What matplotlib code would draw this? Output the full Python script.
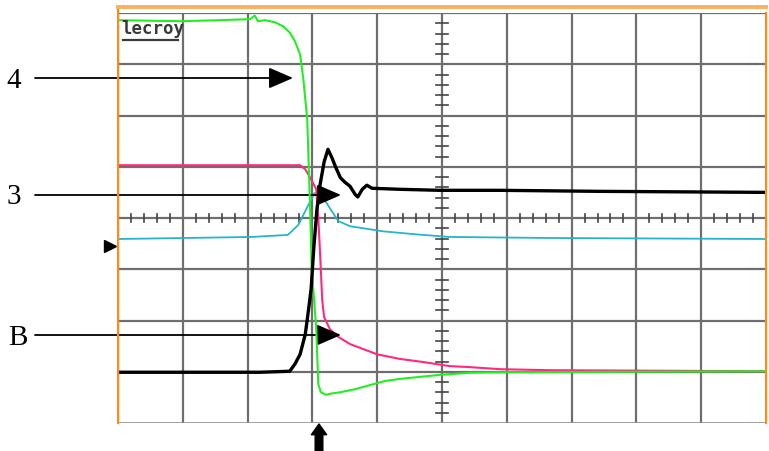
import numpy as np
import matplotlib
matplotlib.use('Agg')
from matplotlib import pyplot as plt

# traces, in screen divisions (x: 0..10, y: 0..8)
green_t = [0, 0.96, 1.57, 2.04, 2.11, 2.16, 2.27, 2.42, 2.55, 2.65, 2.73, 2.81, 2.86,
           2.92, 2.96, 2.99, 3.06, 3.09, 3.13, 3.21, 3.27, 3.43, 3.66, 3.89, 4.12,
           4.35, 4.66, 4.97, 5.43, 5.90, 10]
green_v = [7.86, 7.84, 7.86, 7.88, 7.95, 7.84, 7.86, 7.82, 7.74, 7.62, 7.45, 7.19, 6.71,
           5.93, 4.37, 3.00, 1.83, 0.76, 0.60, 0.55, 0.57, 0.60, 0.66, 0.74, 0.82,
           0.86, 0.90, 0.94, 0.98, 0.99, 1.01]

pink_t = [0, 2.81, 2.89, 2.96, 3.06, 3.10, 3.13, 3.15, 3.18, 3.27, 3.40, 3.58, 4.00,
          4.35, 4.71, 5.12, 5.43, 5.90, 6.67, 10]
pink_v = [5.03, 5.03, 4.95, 4.80, 4.56, 3.78, 3.00, 2.42, 2.07, 1.83, 1.68, 1.54, 1.34,
          1.25, 1.19, 1.11, 1.09, 1.05, 1.03, 1.01]

black_t = [0, 1.27, 2.19, 2.65, 2.73, 2.81, 2.89, 2.93, 2.98, 3.02, 3.07, 3.12, 3.18,
           3.24, 3.30, 3.36, 3.43, 3.50, 3.58, 3.66, 3.70, 3.77, 3.84, 3.92, 4.35,
           4.97, 5.90, 7.44, 10]
black_v = [0.99, 0.99, 0.99, 1.01, 1.15, 1.34, 1.73, 2.11, 2.61, 3.39, 4.17, 4.66, 5.09,
           5.34, 5.18, 4.99, 4.79, 4.70, 4.62, 4.46, 4.41, 4.56, 4.64, 4.58, 4.56,
           4.54, 4.54, 4.52, 4.50]

cyan_t = [0, 2.06, 2.62, 2.78, 2.92, 3.03, 3.10, 3.18, 3.26, 3.40, 3.58, 4.09, 4.61,
          5.12, 6.67, 10]
cyan_v = [3.59, 3.63, 3.67, 3.86, 4.21, 4.48, 4.52, 4.37, 4.21, 3.94, 3.84, 3.74, 3.68,
          3.63, 3.61, 3.59]

W, H = 769, 452
fig = plt.figure(figsize=(W / 100, H / 100), dpi=100)
ax = fig.add_axes([118 / W, 28 / H, 648 / W, 410 / H])
ax.set_xlim(0, 10)
ax.set_ylim(0, 8)
ax.set_axis_off()

grid_c = '#6e6e6e'
for gx in range(1, 10):
    ax.plot([gx, gx], [0, 8], color=grid_c, lw=1.6, zorder=1)
for gy in range(1, 8):
    ax.plot([0, 10], [gy, gy], color=grid_c, lw=1.6, zorder=1)
ax.plot([0, 10], [0, 0], color='#909090', lw=1.2, zorder=1)
ax.plot([0, 10], [8, 8], color=grid_c, lw=1.6, zorder=1)

# minor ticks on the centre axes
for p in np.arange(0.2, 10, 0.2):
    if abs(p - round(p)) > 0.05:
        ax.plot([p, p], [3.92, 4.08], color='#444444', lw=1.2, zorder=1)
for p in np.arange(0.2, 8, 0.2):
    if abs(p - round(p)) > 0.05:
        ax.plot([4.91, 5.09], [p, p], color='#444444', lw=1.2, zorder=1)

# orange frame
ax.plot([0, 0], [0, 8.12], color='#ff8a1c', lw=1.6, clip_on=False, zorder=5)
ax.plot([10, 10], [0, 8], color='#ff8a1c', lw=1.6, clip_on=False, zorder=5)
ax.plot([0, 10], [8.12, 8.12], color='#f9b060', lw=2.8, clip_on=False, zorder=5)

ax.plot(cyan_t, cyan_v, color='#25b5c8', lw=1.3, zorder=3)
ax.plot(pink_t, pink_v, color='#ff2a80', lw=1.5, zorder=3)
ax.plot(green_t, green_v, color='#22ee22', lw=1.5, zorder=4)
ax.plot(black_t, black_v, color='black', lw=2.4, zorder=4)

# ground marker on left edge
ax.plot([-0.12], [3.45], marker='>', color='black', markersize=8, clip_on=False)

ax.text(0.05, 7.70, 'lecroy', family='DejaVu Sans Mono', fontsize=12.5,
        fontweight='bold', color='#3a3a3a', va='center', ha='left', zorder=6)
ax.plot([0.07, 0.92], [7.47, 7.47], color='#3a3a3a', lw=1.6, zorder=6)

# annotation arrows
labels = ['4', '3', 'B']
label_x = [14, 14, 18]
label_y = [81, 197, 338]
tip_x = [293, 341, 341]
arrow_y = [79, 196, 336]
for lab, lx, ly, tx, ay in zip(labels, label_x, label_y, tip_x, arrow_y):
    fig.text(lx / W, 1 - ly / H, lab, family='Liberation Serif', fontsize=21,
             ha='center', va='center')
    ax.annotate('', xy=(tx, H - ay), xytext=(35, H - ay),
                xycoords='figure pixels', textcoords='figure pixels',
                arrowprops=dict(arrowstyle='-|>,head_length=1.5,head_width=0.65',
                                mutation_scale=10, color='black', lw=1.3,
                                shrinkA=0, shrinkB=0))

# trigger arrow below the screen
ax.annotate('', xy=(319, H - 425), xytext=(319, H - 452),
            xycoords='figure pixels', textcoords='figure pixels',
            arrowprops=dict(arrowstyle='simple,head_length=0.7,head_width=1.0,tail_width=0.5',
                            mutation_scale=11, color='black', shrinkA=0, shrinkB=0))

fig.savefig('out.png', dpi=100)
